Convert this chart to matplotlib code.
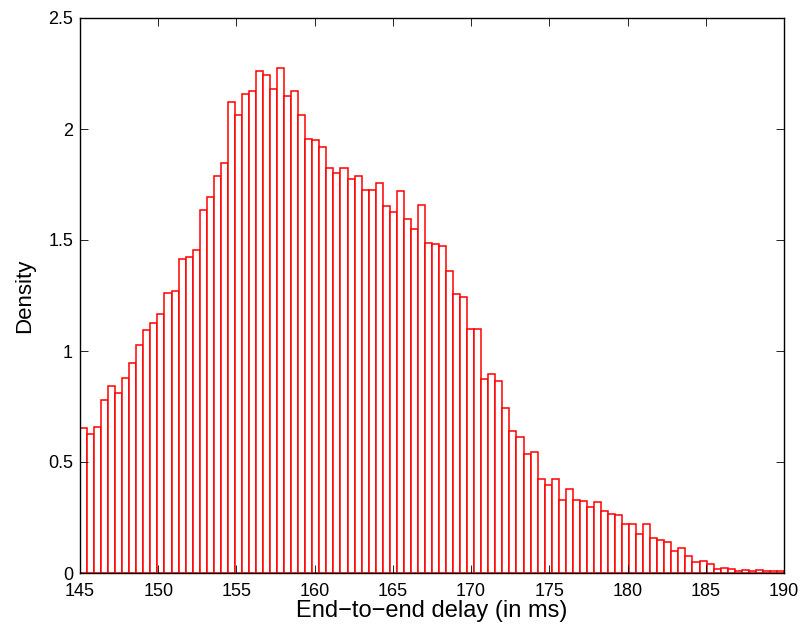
import numpy as np
import matplotlib
matplotlib.use('Agg')
import matplotlib.pyplot as plt

# histogram: 100 bins over [145, 190], density
bin_lo = 145.0
bin_hi = 190.0
density = [
  0.653, 0.625, 0.659, 0.778, 0.844, 0.811, 0.877, 0.946, 1.026, 1.093,
  1.128, 1.165, 1.263, 1.272, 1.414, 1.422, 1.456, 1.634, 1.692, 1.790,
  1.845, 2.120, 2.063, 2.156, 2.170, 2.263, 2.245, 2.179, 2.273, 2.150,
  2.170, 2.065, 1.953, 1.949, 1.920, 1.823, 1.802, 1.823, 1.773, 1.788,
  1.724, 1.727, 1.757, 1.653, 1.625, 1.719, 1.593, 1.550, 1.656, 1.488,
  1.480, 1.471, 1.359, 1.255, 1.245, 1.098, 1.098, 0.872, 0.898, 0.863,
  0.745, 0.638, 0.614, 0.538, 0.544, 0.423, 0.396, 0.425, 0.327, 0.380,
  0.330, 0.323, 0.299, 0.318, 0.278, 0.267, 0.263, 0.222, 0.222, 0.174,
  0.219, 0.157, 0.150, 0.140, 0.098, 0.114, 0.078, 0.051, 0.055, 0.042,
  0.020, 0.023, 0.018, 0.008, 0.012, 0.011, 0.015, 0.011, 0.008, 0.008,
]
xticks = [145, 150, 155, 160, 165, 170, 175, 180, 185, 190]
yticks = [0, 0.5, 1, 1.5, 2, 2.5]
yticklabels = ['0', '0.5', '1', '1.5', '2', '2.5']

plt.rcParams['font.family'] = ['Liberation Sans', 'DejaVu Sans']

edges = np.linspace(bin_lo, bin_hi, len(density) + 1)
width = edges[1] - edges[0]

fig = plt.figure(figsize=(8.01, 6.30), dpi=100)
ax = fig.add_axes([80 / 801, 57 / 630, 704 / 801, 555 / 630])

ax.bar(edges[:-1], density, width=width, align='edge', facecolor='white',
       edgecolor='red', linewidth=1.1)

ax.set_xlim(bin_lo, bin_hi)
ax.set_ylim(0, 2.5)
ax.set_xticks(xticks)
ax.set_xticklabels([str(t) for t in xticks])
ax.set_yticks(yticks)
ax.set_yticklabels(yticklabels)
ax.tick_params(direction='in', length=6, width=0.6, top=True, right=True,
               labelsize=13, pad=5)
ax.tick_params(axis='x', pad=7)
for s in ax.spines.values():
  s.set_linewidth(1.0)
  s.set_color('black')

ax.set_xlabel('End\u2212to\u2212end delay (in ms)', fontsize=17, labelpad=0)
ax.set_ylabel('Density', fontsize=16, labelpad=9)

plt.savefig('out.png', dpi=100)
plt.close('all')
